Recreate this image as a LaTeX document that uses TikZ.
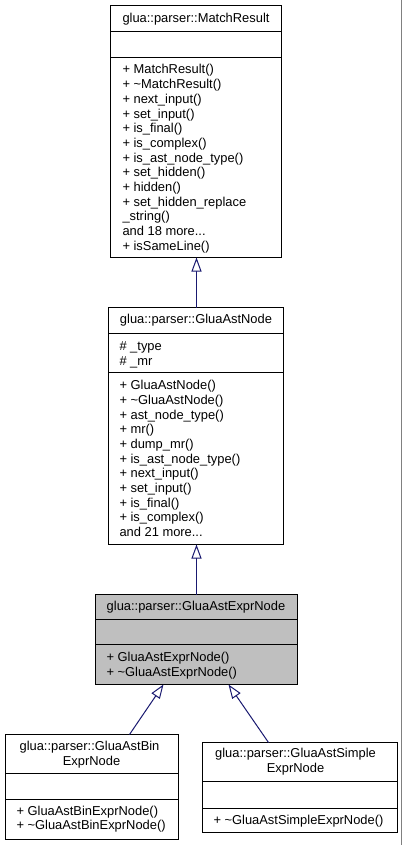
\documentclass[tikz,border=0pt]{standalone}
\usepackage{fontspec}
\setmainfont{Liberation Sans}
\usetikzlibrary{arrows.meta}
\definecolor{edgeblue}{HTML}{191970}
\definecolor{boxgray}{HTML}{BFBFBF}
\newcommand\mydots{...}
\tikzset{
  classbox/.style={draw=black, line width=1pt, inner sep=0pt, outer sep=0pt, anchor=north west},
  txt/.style={inner sep=0pt, outer sep=0pt, font=\fontsize{12.9pt}{14.67pt}\selectfont, text=black},
  inherit/.style={draw=edgeblue, line width=1pt, -{Triangle[open, length=14pt, width=10pt, fill=white]}},
}
\begin{document}
\begin{tikzpicture}[x=1pt,y=-1pt]
\useasboundingbox (0,0) rectangle (403,845);
\fill[white] (0,0) rectangle (403,845);
\draw[gray, line width=1.5pt] (401.5,0) -- (401.5,845);
\begin{scope}[shift={(0.5,0.5)}]
% MatchResult
\node[classbox, fill=white, minimum width=171pt, minimum height=252pt] (mr) at (110,5) {};
\draw[line width=1pt] (110,31) -- (281,31) (110,57) -- (281,57);
\node[txt, anchor=base] (mrt) at (195.5,21.8) {glua::parser::MatchResult};
\foreach \t [count=\i from 0] in {+ MatchResult(), + \textasciitilde MatchResult(), + next\_input(), + set\_input(), + is\_final(), + is\_complex(), + is\_ast\_node\_type(), + set\_hidden(), + hidden(), + set\_hidden\_replace, \_string(), and 18 more\mydots, + isSameLine()}
  \node[txt, anchor=base west] (mr-\i) at (122,73.5+14.67*\i) {\t};

% GluaAstNode
\node[classbox, fill=white, minimum width=175pt, minimum height=237pt] (an) at (108,307) {};
\draw[line width=1pt] (108,333) -- (283,333) (108,372) -- (283,372);
\node[txt, anchor=base] (ant) at (195.5,322.5) {glua::parser::GluaAstNode};
\node[txt, anchor=base west] (ana0) at (119,350) {\# \_type};
\node[txt, anchor=base west] (ana1) at (119,364.7) {\# \_mr};
\foreach \t [count=\i from 0] in {+ GluaAstNode(), + \textasciitilde GluaAstNode(), + ast\_node\_type(), + mr(), + dump\_mr(), + is\_ast\_node\_type(), + next\_input(), + set\_input(), + is\_final(), + is\_complex(), and 21 more\mydots}
  \node[txt, anchor=base west] (an-\i) at (119,389.2+14.67*\i) {\t};

% GluaAstExprNode
\node[classbox, fill=boxgray, minimum width=202pt, minimum height=90pt] (en) at (95,594) {};
\draw[line width=1pt] (95,619) -- (297,619) (95,644) -- (297,644);
\node[txt, anchor=base] (ent) at (195.5,610.2) {glua::parser::GluaAstExprNode};
\node[txt, anchor=base west] (en-0) at (106,661) {+ GluaAstExprNode()};
\node[txt, anchor=base west] (en-1) at (106,675.7) {+ \textasciitilde GluaAstExprNode()};

% GluaAstBinExprNode
\node[classbox, fill=white, minimum width=173pt, minimum height=105pt] (bin) at (5,734) {};
\draw[line width=1pt] (5,773) -- (178,773) (5,799) -- (178,799);
\node[txt, anchor=base] (bint0) at (89,750) {glua::parser::GluaAstBin};
\node[txt, anchor=base] (bint1) at (91,765) {ExprNode};
\node[txt, anchor=base west] (bin-0) at (16,814.5) {+ GluaAstBinExprNode()};
\node[txt, anchor=base west] (bin-1) at (16,829.2) {+ \textasciitilde GluaAstBinExprNode()};

% GluaAstSimpleExprNode
\node[classbox, fill=white, minimum width=195pt, minimum height=90pt] (sim) at (202,742) {};
\draw[line width=1pt] (202,781) -- (397,781) (202,808) -- (397,808);
\node[txt, anchor=base] (simt0) at (295,757) {glua::parser::GluaAstSimple};
\node[txt, anchor=base] (simt1) at (295,772) {ExprNode};
\node[txt, anchor=base west] (sim-0) at (213,823.5) {+ \textasciitilde GluaAstSimpleExprNode()};

% inheritance
\coordinate (axis) at (196,0);
\coordinate (binstart) at (129,734);
\coordinate (bintip) at (163,684);
\coordinate (simstart) at (268,742);
\coordinate (simtip) at (228,684);
\draw[inherit] (an.north -| axis) -- (mr.south -| axis);
\draw[inherit] (en.north -| axis) -- (an.south -| axis);
\draw[inherit] (binstart) -- (bintip);
\draw[inherit] (simstart) -- (simtip);
\end{scope}
\end{tikzpicture}
\end{document}
